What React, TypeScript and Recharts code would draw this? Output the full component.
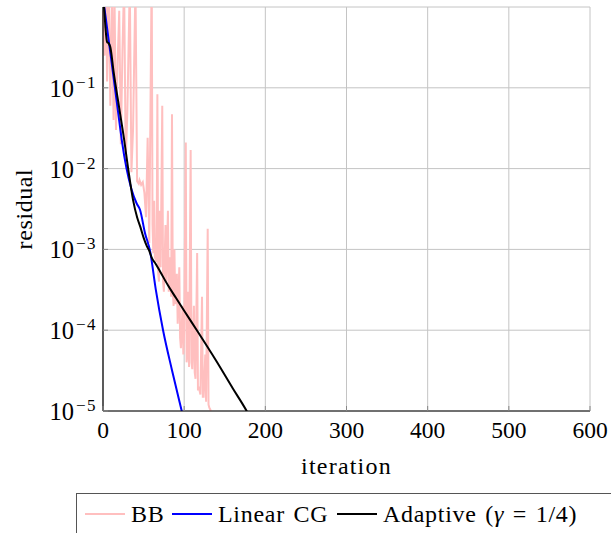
import React from 'react';
import { LineChart, Line, XAxis, YAxis, CartesianGrid, Legend, Label } from 'recharts';

// BB (Barzilai-Borwein) residual history
const bbIterations: number[] = [
    0, 2, 4, 5, 7, 9, 11, 13, 14, 16, 18, 20, 22, 24, 26, 28, 30, 33, 35, 37, 40, 42, 44, 45, 47, 49, 51, 53, 55, 57,
    60, 61, 62, 63, 64, 66, 67, 68, 69, 70, 71, 73, 74, 75, 77, 78, 80, 81, 82, 84, 85, 86, 87, 88, 89, 91, 92, 94,
    95, 96, 98, 99, 100, 102, 103, 104, 105, 106, 108, 109, 110, 112, 113, 114, 116, 117, 118, 120, 122, 123, 124,
    126, 127, 129, 130, 131, 133,
];
const bbResidual: number[] = [
    0.9, 0.25, 1.5, 0.12, 2, 0.06, 1.2, 0.04, 2, 0.03, 0.2, 0.9, 0.02, 0.3, 2, 0.012, 0.05, 2, 0.009, 0.03, 2, 0.007,
    0.0065, 0.0072, 0.0063, 0.0068, 0.005, 0.0025, 0.024, 0.0012,
    3, 0.002, 0.0009, 0.004, 0.0008, 0.0007, 0.083, 0.0005, 0.0004, 0.003, 0.0006, 0.06, 0.0004, 0.0003, 0.002, 0.0004,
    0.003, 0.0003, 0.0008, 0.00026, 0.047, 0.0003, 0.0002, 0.001, 0.00021, 0.0005, 0.00012, 0.0006,
    0.00008, 0.00006, 0.0002, 0.00005, 0.0001, 0.021, 0.00004, 0.00005, 0.0003, 0.000035, 0.017, 0.00004, 0.000033,
    0.0002, 0.00003, 0.000025, 0.0009, 0.000018, 0.00002, 0.000016, 0.00026, 0.000015, 0.000015,
    0.00005, 0.000013, 0.0018, 0.000012, 0.000011, 0.00001,
];

// linear CG
const cgIterations: number[] = [0, 3, 10, 20, 23, 29, 35, 41.5, 45.6, 51.7, 58, 65, 74, 85, 97, 100];
const cgResidual: number[] = [
    1.3, 0.78, 0.23, 0.039, 0.023, 0.01, 0.0056, 0.0037, 0.0031, 0.0016, 0.00095, 0.00032, 0.0001, 0.000032, 0.00001,
    0.0000075,
];

// adaptive (gamma = 1/4)
const adaptiveIterations: number[] = [0, 1.2, 3, 5, 7, 9, 13, 20, 26, 31, 37, 42, 46, 50, 54, 57, 60, 65, 70, 80, 90, 100, 117, 140, 160, 177, 180];
const adaptiveResidual: number[] = [
    1.1, 1.0, 0.56, 0.37, 0.355, 0.32, 0.16, 0.056, 0.023, 0.01, 0.0041, 0.0025, 0.0019, 0.0014, 0.0011, 0.00096,
    0.00079, 0.00066, 0.00054, 0.00036, 0.00025, 0.000174, 0.000095, 0.000041, 0.000019, 0.00001, 0.0000088,
];

const xTicks: number[] = [0, 100, 200, 300, 400, 500, 600];
const yTicks: number[] = [1e-5, 1e-4, 1e-3, 1e-2, 1e-1];
const seriesNames: string[] = ['BB', 'Linear CG', 'Adaptive (γ = 1/4)'];

const toPoints = (its: number[], vals: number[]) => its.map((it, i) => ({ it, r: vals[i] }));
const bbData = toPoints(bbIterations, bbResidual);
const cgData = toPoints(cgIterations, cgResidual);
const adaptiveData = toPoints(adaptiveIterations, adaptiveResidual);

const FONT = "'Liberation Serif', 'DejaVu Serif', serif";
const legendLefts = [8, 95, 260];

const XTick = (props: any) => {
    const { x, y, payload } = props;
    return (
        <g>
            <line x1={x} x2={x} y1={y} y2={y - 5} stroke="#888" />
            <text x={x} y={y + 27} textAnchor="middle" fontFamily={FONT} fontSize={23.5} fill="#000">
                {payload.value}
            </text>
        </g>
    );
};

const YTick = (props: any) => {
    const { x, y, payload } = props;
    const exp = Math.round(Math.log10(payload.value));
    return (
        <g>
            <line x1={x} x2={x + 5} y1={y} y2={y} stroke="#888" />
            <text x={x - 6} y={y + 9} textAnchor="end" fontFamily={FONT} fontSize={24.5} fill="#000">
                10
                <tspan dx={2} dy={-9} fontSize={17} letterSpacing={1.5}>{'\u2212' + Math.abs(exp)}</tspan>
            </text>
        </g>
    );
};

const TopTick = (props: any) => {
    const { x, y } = props;
    return <line x1={x} x2={x} y1={y} y2={y + 5} stroke="#888" />;
};

const RightTick = (props: any) => {
    const { x, y } = props;
    return <line x1={x - 5} x2={x} y1={y} y2={y} stroke="#888" />;
};

const renderName = (name: string) => {
    const parts = name.split('γ');
    if (parts.length < 2) return name;
    return (
        <>
            {parts[0]}
            <i>γ</i>
            {parts[1]}
        </>
    );
};

const renderLegend = (props: any) => {
    const payload: any[] = props.payload || [];
    // keep the plotting order, not the alphabetical one
    const entries = seriesNames
        .map((name) => payload.find((p: any) => p.value === name))
        .filter(Boolean);
    return (
        <div
            style={{
                position: 'relative',
                width: 535,
                height: 40,
                boxSizing: 'border-box',
                borderTop: '1px solid #555',
                borderLeft: '1px solid #555',
                fontFamily: FONT,
                fontSize: 24,
                letterSpacing: 0.7,
                wordSpacing: 2,
                color: '#000',
            }}
        >
            {entries.map((entry: any, i: number) => (
                <div
                    key={entry.value}
                    style={{ position: 'absolute', left: legendLefts[i], top: 2, height: 36, display: 'flex', alignItems: 'center', whiteSpace: 'nowrap' }}
                >
                    <span style={{ display: 'inline-block', width: 40, borderTop: `2px solid ${entry.color}`, marginRight: 6 }} />
                    <span>{renderName(entry.value)}</span>
                </div>
            ))}
        </div>
    );
};

export default function App() {
    return (
        <div style={{ position: 'absolute', left: 0, top: 0, width: 611, height: 533, background: '#fff' }}>
            <LineChart width={611} height={533} margin={{ top: 7, right: 21, bottom: 0, left: 0 }}>
                <CartesianGrid stroke="#c4c4c4" strokeWidth={1} />
                <XAxis
                    dataKey="it"
                    type="number"
                    domain={[0, 600]}
                    ticks={xTicks}
                    height={122}
                    tickSize={0}
                    tickMargin={0}
                    tickLine={false}
                    axisLine={{ stroke: '#000', strokeWidth: 1.2 }}
                    tick={<XTick />}
                    interval={0}
                >
                    <Label
                        content={(p: any) => (
                            <text
                                x={p.viewBox.x + p.viewBox.width / 2}
                                y={p.viewBox.y + 63}
                                textAnchor="middle"
                                fontFamily={FONT}
                                fontSize={24}
                                letterSpacing={1.2}
                                fill="#000"
                            >
                                iteration
                            </text>
                        )}
                    />
                </XAxis>
                <XAxis
                    xAxisId="top"
                    orientation="top"
                    dataKey="it"
                    type="number"
                    domain={[0, 600]}
                    ticks={xTicks}
                    height={0}
                    tickSize={0}
                    tickMargin={0}
                    tickLine={false}
                    axisLine={{ stroke: '#000', strokeWidth: 1.2 }}
                    tick={<TopTick />}
                    interval={0}
                />
                <YAxis
                    scale="log"
                    type="number"
                    domain={[1e-5, 1]}
                    allowDataOverflow
                    ticks={yTicks}
                    width={103}
                    tickSize={0}
                    tickMargin={0}
                    tickLine={false}
                    axisLine={{ stroke: '#000', strokeWidth: 1.2 }}
                    tick={<YTick />}
                    interval={0}
                >
                    <Label
                        content={() => (
                            <text
                                transform="translate(32,209) rotate(-90)"
                                x={0}
                                y={0}
                                textAnchor="middle"
                                fontFamily={FONT}
                                fontSize={24}
                                letterSpacing={0.6}
                                fill="#000"
                            >
                                residual
                            </text>
                        )}
                    />
                </YAxis>
                <YAxis
                    yAxisId="right"
                    orientation="right"
                    scale="log"
                    type="number"
                    domain={[1e-5, 1]}
                    allowDataOverflow
                    ticks={yTicks}
                    width={0}
                    tickSize={0}
                    tickMargin={0}
                    tickLine={false}
                    axisLine={{ stroke: '#000', strokeWidth: 1.2 }}
                    tick={<RightTick />}
                    interval={0}
                />
                <Line
                    data={bbData}
                    dataKey="r"
                    name={seriesNames[0]}
                    stroke="#ffbfbf"
                    strokeWidth={2}
                    dot={false}
                    isAnimationActive={false}
                />
                <Line
                    data={cgData}
                    dataKey="r"
                    name={seriesNames[1]}
                    stroke="#0000ff"
                    strokeWidth={2}
                    dot={false}
                    type="monotone"
                    isAnimationActive={false}
                />
                <Line
                    data={adaptiveData}
                    dataKey="r"
                    name={seriesNames[2]}
                    stroke="#000000"
                    strokeWidth={2}
                    dot={false}
                    type="monotone"
                    isAnimationActive={false}
                />
                <Legend
                    layout="horizontal"
                    verticalAlign="middle"
                    content={renderLegend}
                    wrapperStyle={{ position: 'absolute', left: 76, top: 493, width: 535, height: 40 }}
                />
            </LineChart>
        </div>
    );
}
